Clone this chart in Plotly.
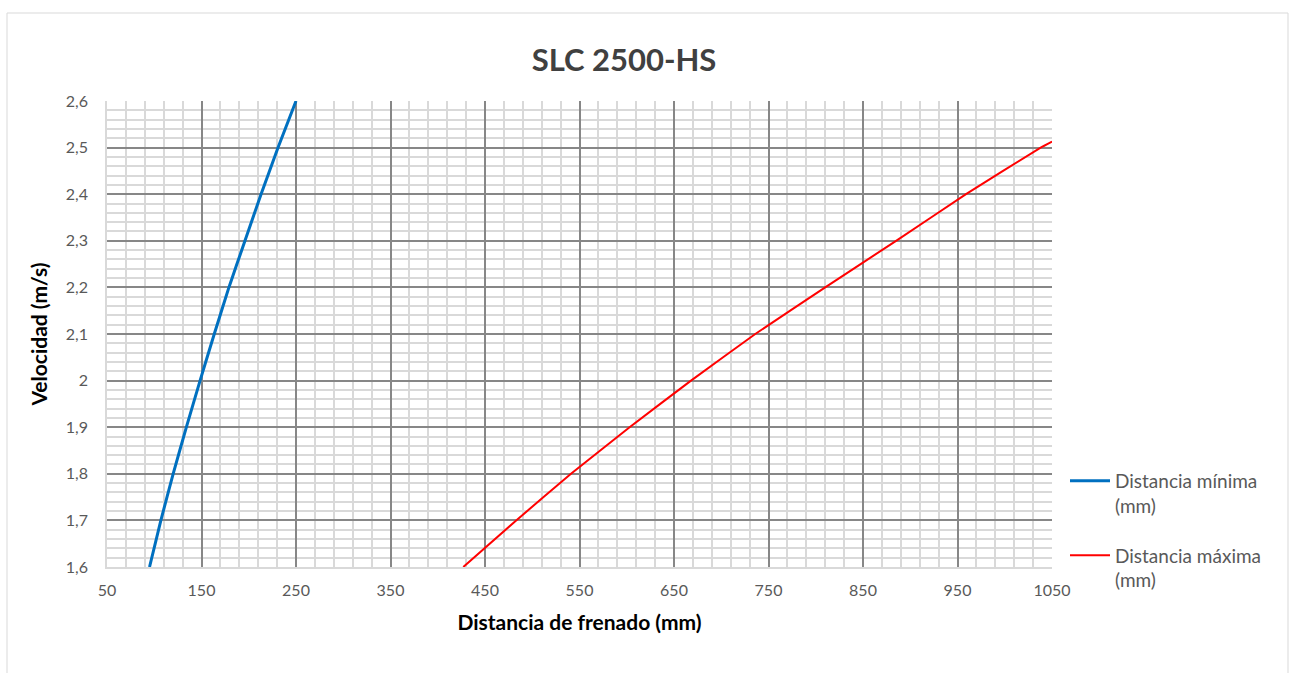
import plotly.graph_objects as go

# Data
velocidad = [1.6, 1.7, 1.8, 1.9, 2.0, 2.1, 2.2, 2.3, 2.4, 2.5, 2.6]
dist_min = [95, 107, 120, 134, 148.5, 163.5, 179, 196, 213, 231, 250]

velocidad_max = [1.6, 1.7, 1.8, 1.9, 2.0, 2.1, 2.2, 2.3, 2.4, 2.5, 2.513]
dist_max = [427, 483, 541, 603, 668, 736, 810, 885, 959, 1038, 1050]

x_ticks = [50, 150, 250, 350, 450, 550, 650, 750, 850, 950, 1050]
y_ticks = [1.6, 1.7, 1.8, 1.9, 2.0, 2.1, 2.2, 2.3, 2.4, 2.5, 2.6]
y_ticktext = ["1,6", "1,7", "1,8", "1,9", "2", "2,1", "2,2", "2,3", "2,4", "2,5", "2,6"]

FONT = "Lato, 'Open Sans', sans-serif"

fig = go.Figure()
fig.add_trace(go.Scatter(
    x=dist_min, y=velocidad, mode="lines", name="Distancia mínima<br>(mm)",
    line=dict(color="#0070C0", width=3, shape="spline", smoothing=0.3),
    legendgroup="a",
))
fig.add_trace(go.Scatter(
    x=dist_max, y=velocidad_max, mode="lines", name="Distancia máxima<br>(mm)",
    line=dict(color="#FF0000", width=2, shape="spline", smoothing=0.3),
    legendgroup="b",
))

L, R, T, B = 107, 1295 - 1052, 101, 673 - 567
PW, PH = 1052 - 107, 567 - 101

fig.update_layout(
    width=1295, height=673,
    margin=dict(l=L, r=R, t=T, b=B),
    paper_bgcolor="white", plot_bgcolor="white",
    font=dict(family=FONT, size=16, color="#595959"),
    title=dict(
        text="<b>SLC 2500-HS</b>",
        font=dict(family=FONT, size=31, color="#404040"),
        x=(624 - 107) / PW, xref="paper", xanchor="center",
        y=1 - 60 / 673, yref="container", yanchor="middle",
    ),
    xaxis=dict(
        range=[50, 1050], tickmode="array", tickvals=x_ticks,
        ticks="", showgrid=True, gridcolor="#878787", gridwidth=1.5,
        minor=dict(dtick=20, tick0=50, showgrid=True, gridcolor="#d9d9d9", gridwidth=1.5),
        showline=True, linecolor="#d9d9d9", linewidth=1.5, zeroline=False,
        tickfont=dict(size=16, color="#595959"), ticklabelstandoff=8,
        title=dict(text="<b>Distancia de frenado (mm)</b>",
                   font=dict(size=21, color="#000000"), standoff=17),
    ),
    yaxis=dict(
        range=[1.6, 2.6], tickmode="array", tickvals=y_ticks, ticktext=y_ticktext,
        ticks="", showgrid=True, gridcolor="#878787", gridwidth=1.5,
        minor=dict(dtick=0.02, tick0=1.6, showgrid=True, gridcolor="#d9d9d9", gridwidth=1.5),
        showline=True, linecolor="#d9d9d9", linewidth=1.5, zeroline=False,
        tickfont=dict(size=16, color="#595959"), ticklabelstandoff=14,
        title=dict(text="<b>Velocidad (m/s)</b>",
                   font=dict(size=21, color="#000000"), standoff=12),
    ),
    legend=dict(
        x=(1065 - 107) / PW, xanchor="left", y=(567 - 462) / PH, yanchor="top",
        traceorder="grouped", tracegroupgap=22, valign="top", itemwidth=40,
        font=dict(size=19, color="#595959"), bgcolor="rgba(0,0,0,0)",
    ),
    shapes=[dict(
        type="rect", xref="paper", yref="paper",
        x0=(7 - 107) / PW, x1=(1288 - 107) / PW,
        y0=(567 - 690) / PH, y1=(567 - 13) / PH,
        line=dict(color="#d9d9d9", width=1), fillcolor="rgba(0,0,0,0)", layer="below",
    )],
)

fig.write_html("out.html", config={"displayModeBar": False},
               post_script="document.body.style.margin='0px';")
